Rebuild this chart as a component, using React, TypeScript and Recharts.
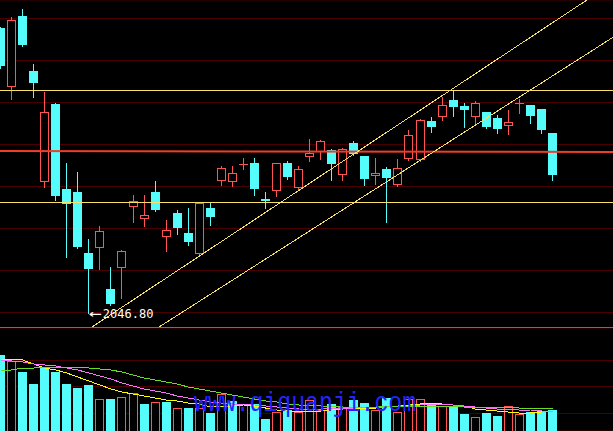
import React from 'react';
import {
  ComposedChart,
  Bar,
  Line,
  XAxis,
  YAxis,
  CartesianGrid,
  ReferenceLine,
  ReferenceDot,
} from 'recharts';

// candle colours (up = hollow red, down = solid cyan)
const UP = '#ff5454';
const DOWN = '#54fcfc';

// daily OHLC
const opens = [
  2332, 2273, 2344, 2289, 2178, 2256, 2171, 2168, 2107, 2112,
  2071, 2092, 2153, 2141, 2168, 2123, 2147, 2127, 2106, 2152,
  2179, 2178, 2196, 2197, 2161, 2169, 2197, 2172, 2203, 2208,
  2210, 2185, 2217, 2204, 2184, 2191, 2175, 2201, 2200, 2239,
  2243, 2260, 2254, 2243, 2248, 2242, 2234, 2257, 2255, 2251,
  2227,
];
const highs = [
  2333, 2343, 2351, 2296, 2268, 2257, 2197, 2188, 2121, 2134,
  2093, 2110, 2165, 2165, 2179, 2140, 2150, 2152, 2158, 2157,
  2194, 2194, 2202, 2202, 2168, 2197, 2199, 2194, 2221, 2220,
  2211, 2212, 2219, 2204, 2202, 2193, 2201, 2230, 2241, 2243,
  2263, 2270, 2257, 2259, 2248, 2245, 2250, 2261, 2255, 2251,
  2227,
];
const lows = [
  2292, 2261, 2314, 2263, 2173, 2160, 2103, 2112, 2046.8, 2091,
  2055, 2062, 2138, 2134, 2149, 2109, 2126, 2115, 2105, 2135,
  2175, 2174, 2191, 2165, 2152, 2164, 2181, 2171, 2199, 2201,
  2180, 2180, 2205, 2175, 2176, 2138, 2174, 2200, 2199, 2228,
  2240, 2244, 2233, 2237, 2232, 2227, 2226, 2247, 2237, 2227,
  2180,
];
const closes = [
  2294, 2340, 2315, 2277, 2248, 2164, 2156, 2113, 2091, 2129,
  2056, 2109, 2159, 2145, 2150, 2130, 2132, 2118, 2157, 2143,
  2192, 2187, 2196, 2171, 2159, 2197, 2183, 2191, 2207, 2219,
  2196, 2211, 2206, 2181, 2187, 2182, 2192, 2225, 2240, 2233,
  2255, 2253, 2250, 2257, 2233, 2231, 2238, 2257, 2244, 2230,
  2185,
];

// volume and its moving averages
const volumes = [
  76, 70, 59, 47, 63, 59, 47, 43, 46, 32,
  32, 34, 38, 27, 29, 29, 23, 23, 23, 18,
  37, 30, 27, 27, 12, 19, 21, 19, 31, 21,
  27, 24, 31, 28, 21, 33, 19, 32, 32, 26,
  25, 25, 17, 14, 18, 15, 25, 17, 19, 20,
  21,
];
const volMa5 = [
  72, 72, 71, 67, 63, 61, 58, 54, 50, 46,
  42, 39, 37, 35, 33, 31, 30, 28, 27, 24,
  25, 25, 26, 25, 23, 21, 20, 19, 20, 20,
  21, 22, 23, 23, 23, 25, 25, 26, 27, 28,
  27, 26, 25, 22, 21, 20, 19, 18, 18, 19,
  20,
];
const volMa10 = [
  71, 70, 69, 67, 66, 65, 63, 61, 58, 55,
  52, 48, 45, 42, 40, 38, 35, 33, 31, 29,
  28, 27, 27, 26, 25, 24, 23, 22, 22, 22,
  23, 23, 23, 24, 24, 24, 25, 25, 26, 27,
  27, 26, 25, 24, 23, 22, 22, 21, 21, 20,
  19,
];
const volMa20 = [
  60, 61, 63, 63, 64, 64, 64, 64, 63, 62,
  61, 59, 56, 53, 51, 49, 47, 44, 42, 40,
  38, 36, 34, 32, 30, 29, 27, 26, 26, 25,
  25, 24, 24, 24, 24, 25, 25, 25, 25, 25,
  25, 25, 24, 24, 24, 24, 24, 23, 23, 23,
  23,
];

// drawn levels
const priceGrid = [2341.5, 2299.5, 2257.5, 2215.5, 2173.5, 2131.5, 2089.5, 2047.5];
const volGrid = [70.5, 44.5, 17.5];
const yellowLevels = [2269.5, 2157.5];
const pivotLine = [{ x: -0.05, y: 2209 }, { x: 55.48, y: 2208 }];
const channelUpper = [{ x: 8.29, y: 2033 }, { x: 53.12, y: 2360 }];
const channelLower = [{ x: 14.36, y: 2033 }, { x: 55.48, y: 2322.7 }];
const lowMark = { index: 8, price: 2046.8, text: '2046.80' };

const X_DOMAIN: [number, number] = [-0.05, 55.48];
const PRICE_DOMAIN: [number, number] = [2032, 2360];
const VOL_DOMAIN: [number, number] = [0, 103];

const data = opens.map((open, i) => ({
  i,
  open,
  high: highs[i],
  low: lows[i],
  close: closes[i],
  range: [lows[i], highs[i]],
  vol: volumes[i],
  volUp: i === 0 ? closes[i] >= open : closes[i] >= closes[i - 1],
  ma5: volMa5[i],
  ma10: volMa10[i],
  ma20: volMa20[i],
}));

function Candle(props: any) {
  const { x, y, width, height, payload } = props;
  const { open, high, low, close } = payload;
  const k = height / (high - low || 1);
  const py = (p: number) => y + (high - p) * k;
  const cx = Math.floor(x + width / 2);
  const left = cx - 4;
  const wx = cx + 0.5;
  const up = close >= open;
  const color = up ? UP : DOWN;
  const top = Math.round(py(Math.max(open, close)));
  const bot = Math.round(py(Math.min(open, close)));
  const yHigh = Math.round(py(high));
  const yLow = Math.round(py(low));

  if (bot - top <= 1) {
    return (
      <g>
        <line x1={wx} x2={wx} y1={yHigh} y2={yLow + 1} stroke={color} />
        <line x1={left} x2={left + 9} y1={top + 0.5} y2={top + 0.5} stroke={color} />
      </g>
    );
  }
  if (up) {
    return (
      <g>
        <line x1={wx} x2={wx} y1={yHigh} y2={top} stroke={color} />
        <line x1={wx} x2={wx} y1={bot} y2={yLow + 1} stroke={color} />
        <rect x={left + 0.5} y={top + 0.5} width={8} height={bot - top - 1} fill="#000" stroke={color} />
      </g>
    );
  }
  return (
    <g>
      <line x1={wx} x2={wx} y1={yHigh} y2={yLow + 1} stroke={color} />
      <rect x={left} y={top} width={9} height={bot - top} fill={color} />
    </g>
  );
}

function VolBar(props: any) {
  const { x, y, width, height, payload } = props;
  const cx = Math.floor(x + width / 2);
  const left = cx - 4;
  const top = Math.round(y);
  const bottom = Math.round(y + height);
  if (payload.volUp) {
    return (
      <rect x={left + 0.5} y={top + 0.5} width={8} height={bottom - top + 4} fill="#000" stroke={UP} />
    );
  }
  return <rect x={left} y={top} width={9} height={bottom - top} fill={DOWN} />;
}

function LowLabel(props: any) {
  const { viewBox } = props;
  const x = viewBox.x + 1;
  const y = viewBox.y + 1;
  return (
    <text fill="#ffffff" fontSize={12} fontFamily="'DejaVu Sans Mono', monospace">
      <tspan x={x} y={y + 5} fontSize={14} textLength={13} lengthAdjust="spacingAndGlyphs">←</tspan>
      <tspan x={x + 14} y={y + 5}>{lowMark.text}</tspan>
    </text>
  );
}

const noMargin = { top: 0, right: 0, bottom: 0, left: 0 };

export default function App() {
  return (
    <div
      style={{
        position: 'absolute',
        left: 0,
        top: 0,
        width: 613,
        height: 431,
        background: '#000',
        overflow: 'hidden',
      }}
    >
      <div style={{ position: 'absolute', left: 0, top: 0 }}>
        <ComposedChart width={613} height={328} data={data} margin={noMargin}>
          <CartesianGrid vertical={false} stroke="#4a0000" />
          <XAxis hide type="number" dataKey="i" domain={X_DOMAIN} allowDataOverflow />
          <YAxis hide type="number" domain={PRICE_DOMAIN} ticks={priceGrid} allowDataOverflow />
          <Bar dataKey="range" barSize={9} shape={(p: any) => <Candle {...p} />} isAnimationActive={false} />
          <ReferenceLine y={2032.5} stroke="#c8502a" />
          {yellowLevels.map((lv) => (
            <ReferenceLine key={lv} y={lv} stroke="#f8e068" />
          ))}
          <ReferenceLine segment={pivotLine} stroke="#f03c28" strokeWidth={2} ifOverflow="visible" />
          <ReferenceLine segment={channelUpper} stroke="#f8e068" shapeRendering="crispEdges" ifOverflow="visible" />
          <ReferenceLine segment={channelLower} stroke="#f8e068" shapeRendering="crispEdges" ifOverflow="visible" />
          <ReferenceDot
            x={lowMark.index}
            y={lowMark.price}
            r={1}
            fill="none"
            stroke="none"
            ifOverflow="visible"
            label={(p: any) => <LowLabel {...p} />}
          />
        </ComposedChart>
      </div>
      <div style={{ position: 'absolute', left: 0, top: 328 }}>
        <ComposedChart width={613} height={103} data={data} margin={noMargin}>
          <CartesianGrid vertical={false} stroke="#4a0000" />
          <XAxis hide type="number" dataKey="i" domain={X_DOMAIN} allowDataOverflow />
          <YAxis hide type="number" domain={VOL_DOMAIN} ticks={volGrid} allowDataOverflow />
          <Bar dataKey="vol" barSize={9} shape={(p: any) => <VolBar {...p} />} isAnimationActive={false} />
          <Line dataKey="ma5" stroke="#ffff00" dot={false} shapeRendering="crispEdges" isAnimationActive={false} />
          <Line dataKey="ma10" stroke="#ff70ff" dot={false} shapeRendering="crispEdges" isAnimationActive={false} />
          <Line dataKey="ma20" stroke="#66e020" dot={false} shapeRendering="crispEdges" isAnimationActive={false} />
        </ComposedChart>
      </div>
      <svg
        width={613}
        height={431}
        style={{ position: 'absolute', left: 0, top: 0, pointerEvents: 'none' }}
      >
        <text
          x={194}
          y={411}
          fill="#2424ff"
          fontSize={28}
          fontFamily="'Liberation Mono', monospace"
          textLength={222}
          lengthAdjust="spacingAndGlyphs"
        >
          www.qiquanji.com
        </text>
      </svg>
    </div>
  );
}
